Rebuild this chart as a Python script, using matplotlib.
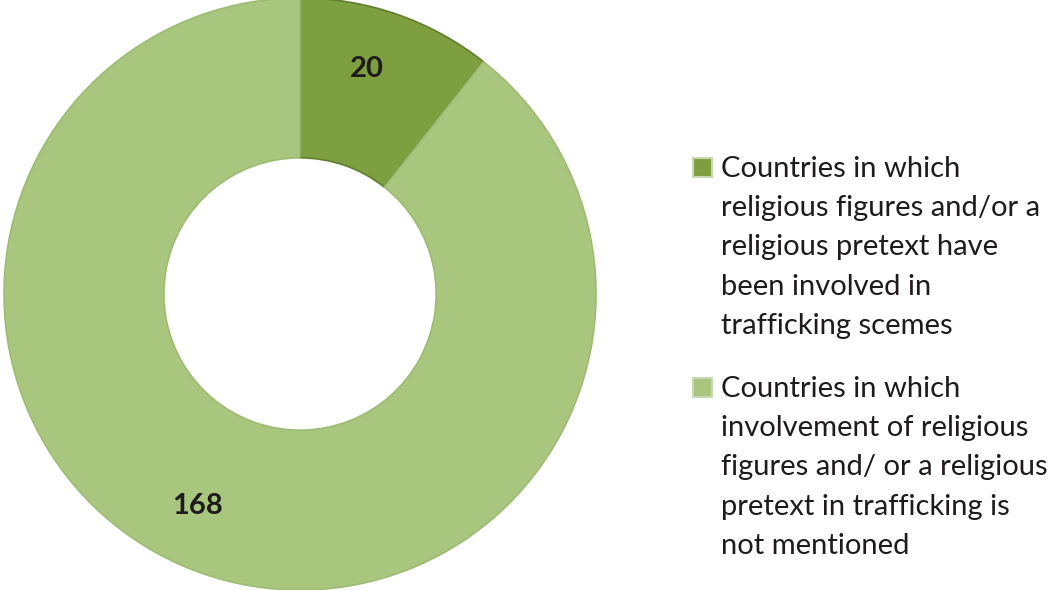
import matplotlib
matplotlib.use("Agg")
import matplotlib.pyplot as plt
from matplotlib.patches import Rectangle

values = [20, 168]
value_labels = ["20", "168"]
legend_labels = [
    ["Countries in which", "religious figures and/or a", "religious pretext have",
     "been involved in", "trafficking scemes"],
    ["Countries in which", "involvement of religious", "figures and/ or a religious",
     "pretext in trafficking is", "not mentioned"],
]
colors = ["#7d9f40", "#a8c67e"]
edge_colors = ["#5f7f2c", "#9dbb72"]

W, H = 1058, 590
fig = plt.figure(figsize=(W / 100, H / 100), dpi=100)
ax = fig.add_axes([4 / W, 0.0, 592 / W, 592 / H])
wedges, _ = ax.pie(values, colors=colors, startangle=90, counterclock=False,
                   radius=1.0, wedgeprops=dict(width=0.54, linewidth=1.2))
for w, ec in zip(wedges, edge_colors):
    w.set_edgecolor(ec)
ax.set_xlim(-1.0, 1.0)
ax.set_ylim(-1.0, 1.0)
ax.set_aspect("equal")
ax.axis("off")

font = "Lato"
ax.text(0.225, 0.76, value_labels[0], ha="center", va="center",
        fontsize=21, fontweight="bold", color="#1f1a1c", family=font)
ax.text(-0.345, -0.716, value_labels[1], ha="center", va="center",
        fontsize=21, fontweight="bold", color="#1f1a1c", family=font)

# legend (pixel positions measured from top)
first_baselines = [177, 397]
line_step = 39.2
for lines, col, base in zip(legend_labels, colors, first_baselines):
    fig.patches.append(Rectangle((693 / W, 1 - base / H), 19 / W, 19 / H,
                                 transform=fig.transFigure, facecolor=col,
                                 edgecolor="#c8d8b0", linewidth=1.5))
    for i, line in enumerate(lines):
        fig.text(721 / W, 1 - (base + i * line_step) / H, line, ha="left",
                 va="baseline", fontsize=21, color="#1f1a1c", family=font)

fig.savefig("out.png", dpi=100, facecolor="white")
